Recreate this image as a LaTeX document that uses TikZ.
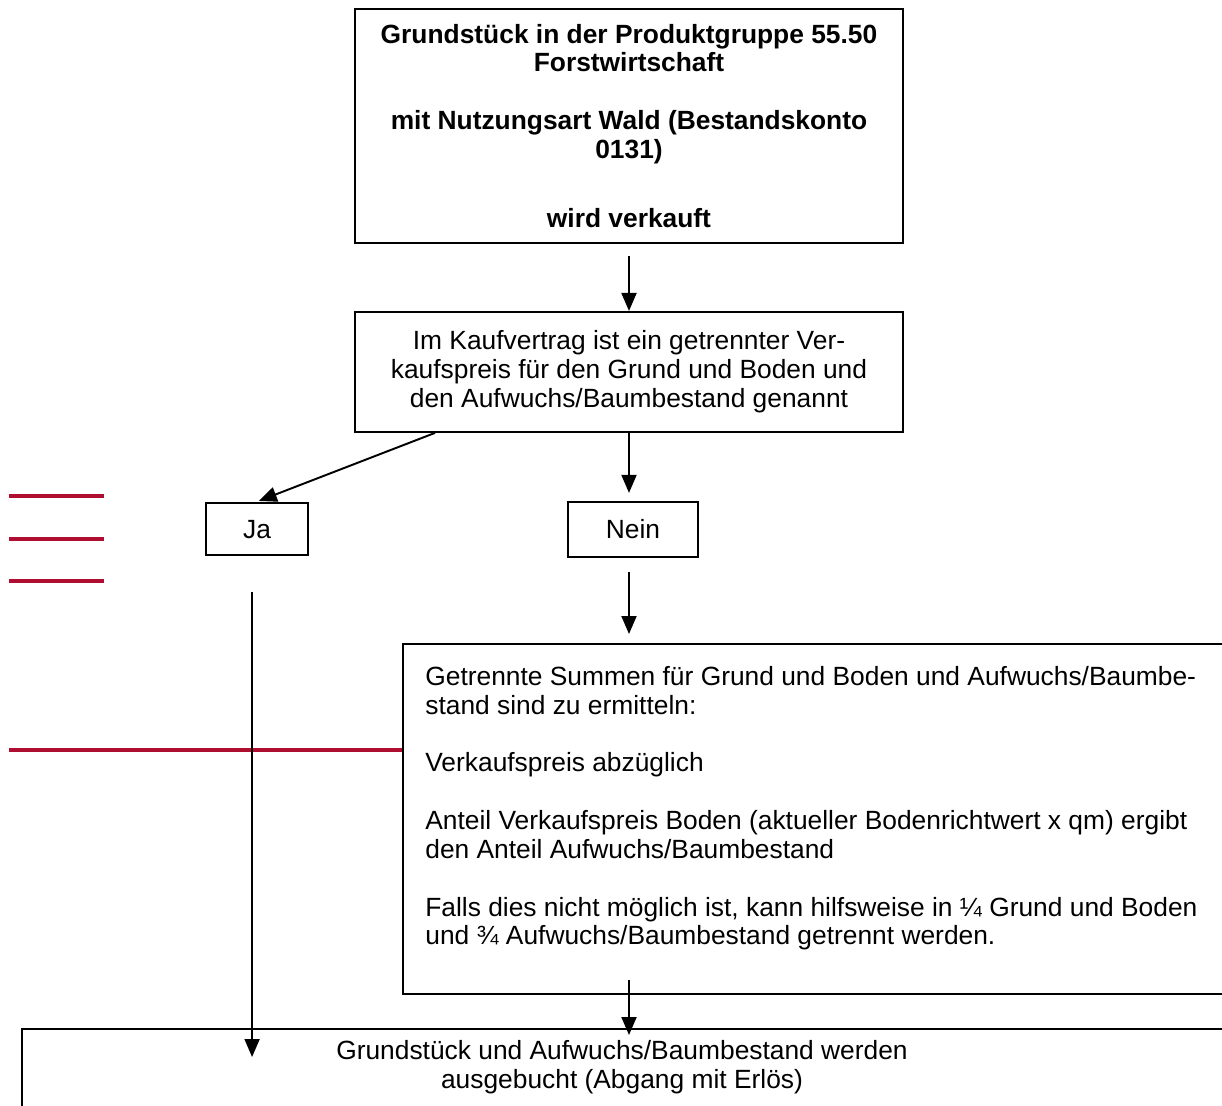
\documentclass[tikz,border=0pt]{standalone}
\usepackage{fontspec}
\setmainfont{Liberation Sans}
\usetikzlibrary{arrows.meta}
\usetikzlibrary{positioning}
\definecolor{rot}{RGB}{176,14,48}

\begin{document}
\begin{tikzpicture}[
    kasten/.style={draw, line width=1.1pt, inner sep=0pt, align=center, font=\fontsize{15}{16.4}\selectfont},
    schrift/.style={inner sep=0pt, font=\fontsize{15}{16.4}\selectfont},
    pfeil/.style={-{Triangle[length=0.36cm,width=0.30cm]}, line width=1.1pt},
    marke/.style={draw=rot, line width=2pt}
  ]
        \useasboundingbox (0,0) rectangle (24.44,-22.12);

        \node[kasten, font=\bfseries\fontsize{15}{16.4}\selectfont, minimum width=10.96cm, minimum height=4.68cm] (verkauf) at (12.58,-2.52)
          {Grundstück in der Produktgruppe 55.50\\Forstwirtschaft\\[16.4pt]mit Nutzungsart Wald (Bestandskonto\\0131)\\[23pt]wird verkauft};
        \node[kasten, minimum width=10.96cm, minimum height=2.40cm, below=1.34cm of verkauf] (vertrag)
          {Im Kaufvertrag ist ein getrennter Ver-\\kaufspreis für den Grund und Boden und\\den Aufwuchs/Baumbestand genannt};
        \node[kasten, minimum width=2.60cm, minimum height=1.10cm, below=1.36cm of vertrag, xshift=0.08cm] (nein) {Nein};
        \node[kasten, minimum width=2.04cm, minimum height=1.04cm, left=5.16cm of nein] (ja) {Ja};
        \node[kasten, minimum width=16.76cm, minimum height=7.00cm, anchor=north west] (summen) at (8.04,-12.86) {};
        \node[schrift, anchor=north west, align=left] (summentext) at (8.50,-13.32)
          {Getrennte Summen für Grund und Boden und Aufwuchs/Baumbe-\\stand sind zu ermitteln:\\[16.4pt]%
           Verkaufspreis abzüglich\\[16.4pt]%
           Anteil Verkaufspreis Boden (aktueller Bodenrichtwert x qm) ergibt\\den Anteil Aufwuchs/Baumbestand\\[16.4pt]%
           Falls dies nicht möglich ist, kann hilfsweise in ¼ Grund und Boden\\und ¾ Aufwuchs/Baumbestand getrennt werden.};
        \node[kasten, minimum width=24.38cm, minimum height=2.00cm, anchor=north west] (abgang) at (0.42,-20.56) {};
        \node[schrift, anchor=north, align=center] (abgangtext) at (12.44,-20.80)
          {Grundstück und Aufwuchs/Baumbestand werden\\ausgebucht (Abgang mit Erlös)};

        % rote Striche am Rand
        \foreach \y in {-9.92,-10.78,-11.62}
          \draw[marke] (0.18,\y) -- (2.08,\y);
        \draw[marke] (0.18,-15.00) -- (summen.west |- 0,-15.00);

        \draw[pfeil, shorten <=0.24cm] (verkauf) -- (vertrag);
        \draw[pfeil, shorten >=0.08cm] ([xshift=-3.88cm]vertrag.south) -- ([xshift=-0.04cm]ja.north);
        \draw[pfeil, shorten >=0.16cm] (vertrag.south) -- (vertrag.south |- nein.north);
        \draw[pfeil, shorten <=0.28cm, shorten >=0.18cm] (vertrag.south |- nein.south) -- (vertrag.south |- summen.north);
        \draw[pfeil, shorten <=0.72cm, shorten >=-0.58cm] ([xshift=-0.1cm]ja.south) -- ([xshift=-0.1cm]ja.south |- abgang.north);
        \draw[pfeil, shorten <=-0.30cm, shorten >=-0.14cm] (vertrag.south |- summen.south) -- (vertrag.south |- abgang.north);
      \end{tikzpicture}
\end{document}
